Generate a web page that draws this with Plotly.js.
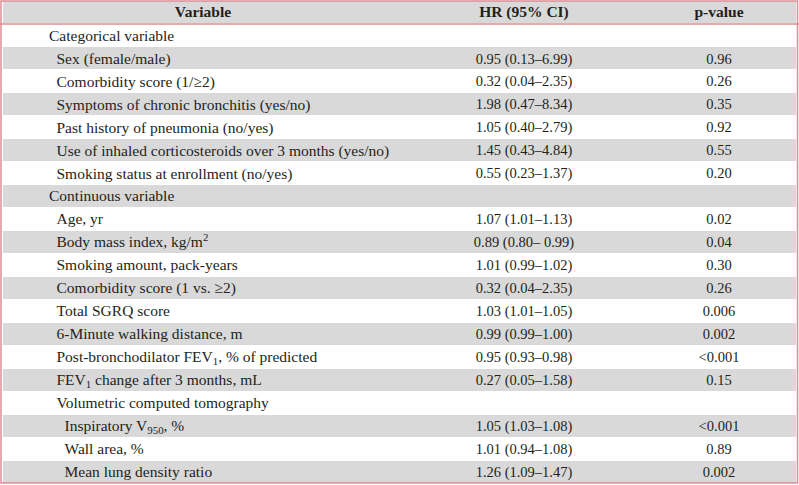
<!DOCTYPE html>
<html>
<head>
<meta charset="utf-8">
<script src="https://cdn.plot.ly/plotly-3.0.1.min.js"></script>
<style>html,body{margin:0;padding:0;background:#fff;}#chart{width:799px;height:485px;}</style>
</head>
<body>
<div id="chart"></div>
<script>
const headers = ['Variable', 'HR (95% CI)', 'p-value'];
const variables = [
  'Categorical variable',
  'Sex (female/male)',
  'Comorbidity score (1/≥2)',
  'Symptoms of chronic bronchitis (yes/no)',
  'Past history of pneumonia (no/yes)',
  'Use of inhaled corticosteroids over 3 months (yes/no)',
  'Smoking status at enrollment (no/yes)',
  'Continuous variable',
  'Age, yr',
  'Body mass index, kg/m<sup>2</sup>',
  'Smoking amount, pack-years',
  'Comorbidity score (1 vs. ≥2)',
  'Total SGRQ score',
  '6-Minute walking distance, m',
  'Post-bronchodilator FEV<sub>1</sub>, % of predicted',
  'FEV<sub>1</sub> change after 3 months, mL',
  'Volumetric computed tomography',
  'Inspiratory V<sub>950</sub>, %',
  'Wall area, %',
  'Mean lung density ratio'
];
const indentLevels = [0,1,1,1,1,1,1, 0,1,1,1,1,1,1,1,1,1,2,2,2];
const hrValues = [
  '', '0.95 (0.13–6.99)', '0.32 (0.04–2.35)', '1.98 (0.47–8.34)', '1.05 (0.40–2.79)',
  '1.45 (0.43–4.84)', '0.55 (0.23–1.37)', '', '1.07 (1.01–1.13)', '0.89 (0.80– 0.99)',
  '1.01 (0.99–1.02)', '0.32 (0.04–2.35)', '1.03 (1.01–1.05)', '0.99 (0.99–1.00)',
  '0.95 (0.93–0.98)', '0.27 (0.05–1.58)', '', '1.05 (1.03–1.08)', '1.01 (0.94–1.08)', '1.26 (1.09–1.47)'
];
const pValues = [
  '', '0.96', '0.26', '0.35', '0.92', '0.55', '0.20', '', '0.02', '0.04', '0.30', '0.26',
  '0.006', '0.002', '<0.001', '0.15', '', '<0.001', '0.89', '0.002'
];

// ---- layout constants (pixels) ----
const W = 799, H = 485;
const TOP = 1, BOTTOM = 483;            // table top / bottom edge
const NROWS = variables.length + 1;      // header + body
const ROWPX = (BOTTOM - TOP) / NROWS;
const yRange = [NROWS - 0.5 + (H - BOTTOM) / ROWPX, -0.5 - TOP / ROWPX];
const TEXT_DY = 1.5 / ROWPX;             // optical centring of text within a row
const indentX = [49, 56.5, 64.5];
const colCenters = [203, 524, 719];
const fillLeft = 2.5, fillRight = 796;

const gray = '#d9d9d9';
const pink = '#dd8d96';
const txt = '#231f20';
const FONT = 'Liberation Serif, Times New Roman, serif';
const FS = 15.5, FS_NUM = 14.5;
const esc = s => s.replace(/<(?![\/]?(sub|sup|b)>)/g, '&lt;');

const bodyRows = variables.map((_, i) => i + 1);
const grayRows = [0].concat(bodyRows.filter(r => r % 2 === 0));

function textColumn(values, xOf, pos, size) {
  const idx = values.map((v, i) => i).filter(i => values[i] !== '');
  return {
    type: 'scatter', mode: 'text',
    x: idx.map(xOf), y: idx.map(i => bodyRows[i] + TEXT_DY),
    text: idx.map(i => esc(values[i])),
    textposition: pos,
    textfont: {family: FONT, size: size, color: txt},
    marker: {size: 0},
    hoverinfo: 'skip', showlegend: false
  };
}

const traces = [
  {
    type: 'bar', orientation: 'h',
    y: grayRows, x: grayRows.map(() => fillRight - fillLeft), base: fillLeft,
    width: 0.96, marker: {color: gray, line: {width: 0}},
    hoverinfo: 'skip', showlegend: false
  },
  {
    type: 'scatter', mode: 'text',
    x: headers.map((_, j) => colCenters[j]), y: headers.map(() => TEXT_DY * 0.6),
    text: headers.map(h => '<b>' + h + '</b>'),
    textposition: 'middle center',
    textfont: {family: FONT, size: FS, color: txt},
    hoverinfo: 'skip', showlegend: false
  },
  textColumn(variables, i => indentX[indentLevels[i]], 'middle right', FS),
  textColumn(hrValues, () => colCenters[1], 'middle center', FS_NUM),
  textColumn(pValues, () => colCenters[2], 'middle center', FS_NUM)
];

const layout = {
  width: W, height: H,
  margin: {l: 0, r: 0, t: 0, b: 0, pad: 0},
  paper_bgcolor: '#ffffff', plot_bgcolor: '#ffffff',
  showlegend: false,
  bargap: 0,
  xaxis: {range: [0, W], visible: false, fixedrange: true},
  yaxis: {range: yRange, visible: false, fixedrange: true},
  shapes: [
    {type: 'rect', xref: 'paper', yref: 'paper', x0: 1 / W, x1: 1 - 1.5 / W, y0: (H - BOTTOM) / H, y1: 1 - TOP / H,
     line: {color: pink, width: 1.5}, fillcolor: 'rgba(0,0,0,0)', layer: 'above'},
    {type: 'line', xref: 'paper', yref: 'y', x0: 0, x1: 1, y0: 0.5, y1: 0.5,
     line: {color: pink, width: 1.5}, layer: 'above'}
  ]
};

Plotly.newPlot('chart', traces, layout, {displayModeBar: false, staticPlot: true});
</script>
</body>
</html>
